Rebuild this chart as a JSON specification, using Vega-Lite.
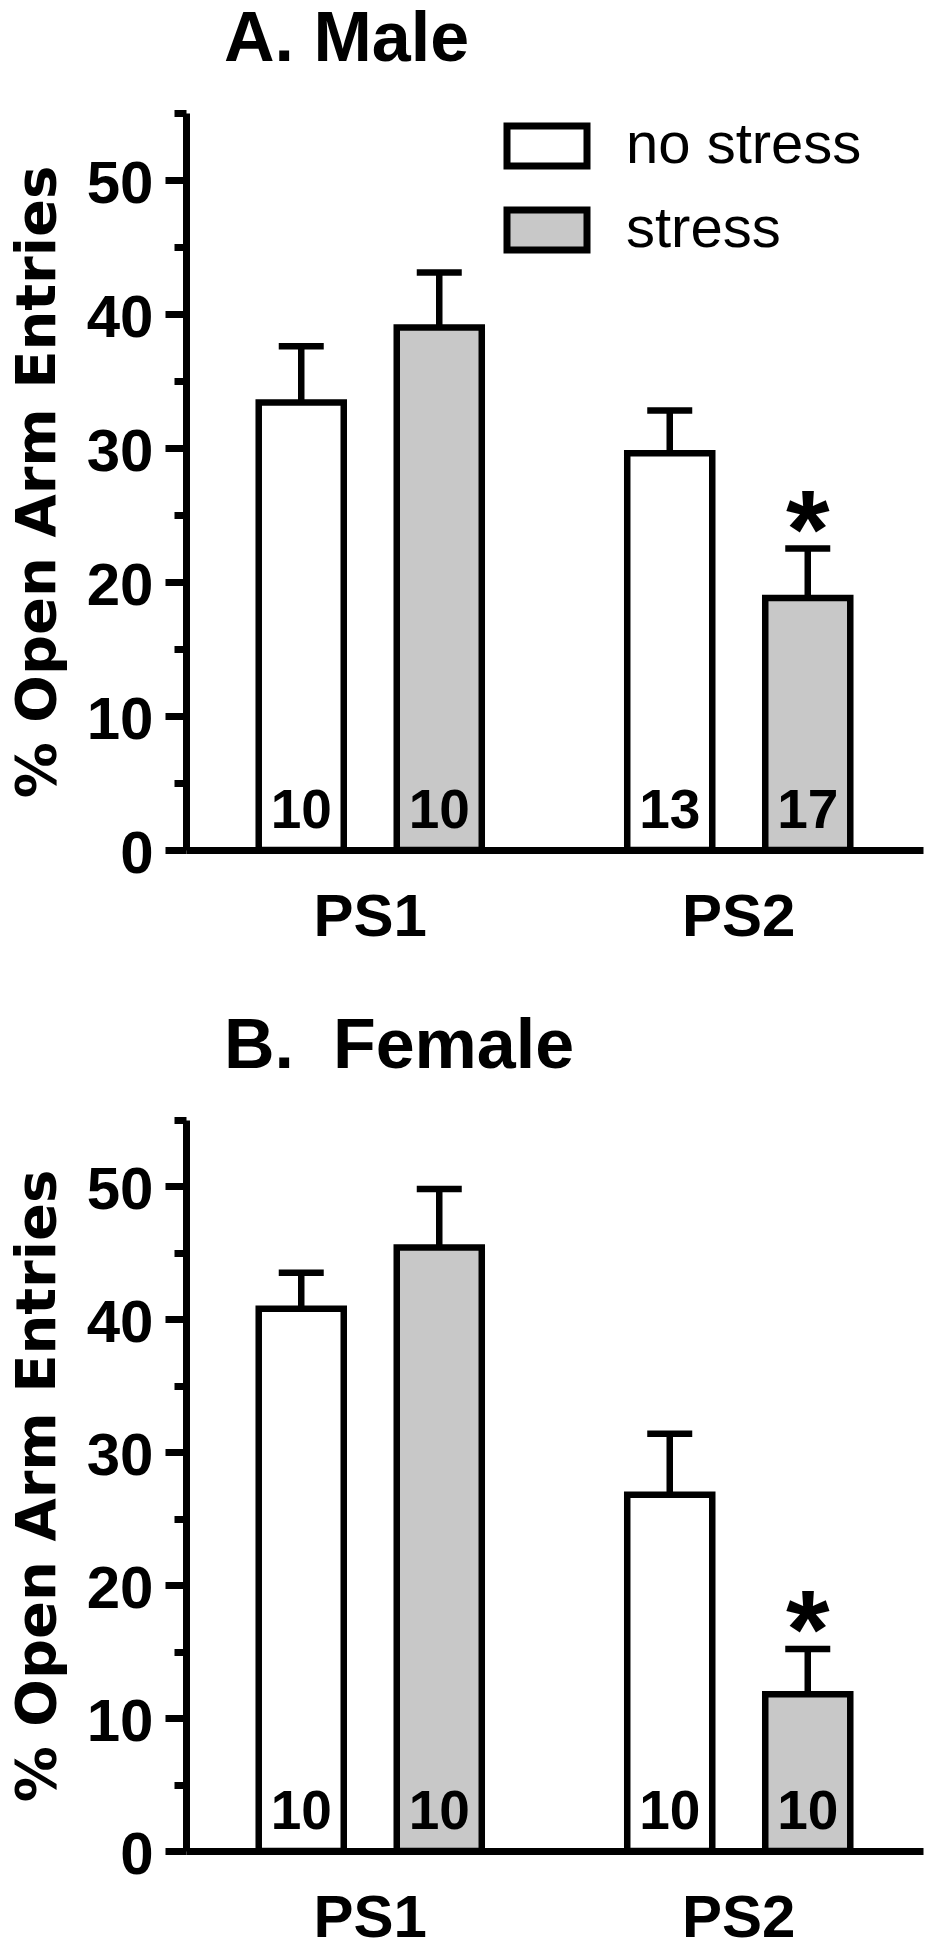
{
  "$schema": "https://vega.github.io/schema/vega-lite/v6.json",
  "background": "white",
  "padding": {"left": 9, "top": 4, "right": 5, "bottom": 0},
  "config": {"view": {"stroke": null}},
  "datasets": {
    "male": [
      {"period": "PS1", "cond": "no stress", "mean": 33.4, "upper": 37.6, "n": "10", "sig": ""},
      {"period": "PS1", "cond": "stress", "mean": 39.0, "upper": 43.1, "n": "10", "sig": ""},
      {"period": "PS2", "cond": "no stress", "mean": 29.6, "upper": 32.8, "n": "13", "sig": ""},
      {"period": "PS2", "cond": "stress", "mean": 18.8, "upper": 22.5, "n": "17", "sig": "*"}
    ],
    "female": [
      {"period": "PS1", "cond": "no stress", "mean": 40.8, "upper": 43.5, "n": "10", "sig": ""},
      {"period": "PS1", "cond": "stress", "mean": 45.4, "upper": 49.8, "n": "10", "sig": ""},
      {"period": "PS2", "cond": "no stress", "mean": 26.8, "upper": 31.4, "n": "10", "sig": ""},
      {"period": "PS2", "cond": "stress", "mean": 11.8, "upper": 15.2, "n": "10", "sig": "*"}
    ]
  },
  "resolve": {"scale": {"fill": "independent"}, "legend": {"fill": "independent"}},
  "spacing": 64,
  "vconcat": [
    {
      "width": 737,
      "height": 737,
      "title": {"text": "A. Male", "anchor": "start", "frame": "group", "dx": 38, "offset": -21, "baseline": "alphabetic", "font": "Liberation Sans", "fontSize": 70, "fontWeight": "bold", "color": "black"},
      "data": {"name": "male"},
      "encoding": {
        "x": {"field": "period", "type": "nominal", "scale": {"paddingInner": 0, "paddingOuter": 0},
          "axis": {"title": null, "labelAngle": 0, "ticks": false, "tickSize": 0, "domainColor": "black", "domainWidth": 7, "labelFont": "Liberation Sans", "labelFontSize": 60, "labelFontWeight": "bold", "labelColor": "black", "labelPadding": 38}},
        "xOffset": {"field": "cond", "type": "nominal", "sort": ["no stress", "stress"], "scale": {"paddingInner": 0.384, "paddingOuter": 0.527}}
      },
      "layer": [
        {
          "mark": {"type": "rule", "strokeWidth": 6.5, "color": "black"},
          "encoding": {
            "y": {"field": "mean", "type": "quantitative", "scale": {"domain": [0, 55], "nice": false},
              "axis": {"title": "% Open Arm Entries", "values": [0, 5, 10, 15, 20, 25, 30, 35, 40, 45, 50, 55], "labelExpr": "datum.value % 10 === 0 ? datum.label : ''", "tickSize": {"condition": {"test": "datum.value % 10 === 0", "value": 21}, "value": 12}, "grid": false, "domainColor": "black", "domainWidth": 7, "tickColor": "black", "tickWidth": 7, "labelFont": "Liberation Sans", "labelFontSize": 60, "labelFontWeight": "bold", "labelColor": "black", "labelPadding": 12, "labelOffset": 4, "titleFont": "DejaVu Sans", "titleFontSize": 56, "titleFontWeight": "bold", "titleColor": "black", "titlePadding": 20}},
            "y2": {"field": "upper"}
          }
        },
        {
          "mark": {"type": "bar", "stroke": "black", "strokeWidth": 6.5, "strokeJoin": "miter"},
          "encoding": {
            "y": {"field": "mean", "type": "quantitative"},
            "fill": {"field": "cond", "type": "nominal", "scale": {"domain": ["no stress", "stress"], "range": ["white", "#c8c8c8"]},
              "legend": {"orient": "none", "legendX": 332, "legendY": 4, "title": null, "symbolType": "M-2,-1H2V1H-2Z", "symbolSize": 1600, "symbolStrokeColor": "black", "symbolStrokeWidth": 7, "symbolOpacity": 1, "labelFont": "Liberation Sans", "labelFontSize": 58, "labelColor": "black", "labelLimit": 500, "labelOffset": 50, "rowPadding": 16, "padding": 0}}
          }
        },
        {
          "mark": {"type": "tick", "thickness": 6.5, "size": 45, "color": "black", "opacity": 1},
          "encoding": {"y": {"field": "upper", "type": "quantitative"}}
        },
        {
          "mark": {"type": "text", "font": "Liberation Sans", "fontWeight": "bold", "fontSize": 55, "baseline": "alphabetic", "dy": -22, "color": "black"},
          "encoding": {"y": {"datum": 0}, "text": {"field": "n"}}
        },
        {
          "mark": {"type": "text", "font": "Liberation Sans", "fontWeight": "bold", "fontSize": 112, "baseline": "middle", "dy": -15, "color": "black"},
          "encoding": {"y": {"field": "upper", "type": "quantitative"}, "text": {"field": "sig"}}
        }
      ]
    },
    {
      "width": 737,
      "height": 731,
      "title": {"text": "B.\u00a0\u00a0Female", "anchor": "start", "frame": "group", "dx": 38, "offset": -21, "baseline": "alphabetic", "font": "Liberation Sans", "fontSize": 70, "fontWeight": "bold", "color": "black"},
      "data": {"name": "female"},
      "encoding": {
        "x": {"field": "period", "type": "nominal", "scale": {"paddingInner": 0, "paddingOuter": 0},
          "axis": {"title": null, "labelAngle": 0, "ticks": false, "tickSize": 0, "domainColor": "black", "domainWidth": 7, "labelFont": "Liberation Sans", "labelFontSize": 60, "labelFontWeight": "bold", "labelColor": "black", "labelPadding": 38}},
        "xOffset": {"field": "cond", "type": "nominal", "sort": ["no stress", "stress"], "scale": {"paddingInner": 0.384, "paddingOuter": 0.527}}
      },
      "layer": [
        {
          "mark": {"type": "rule", "strokeWidth": 6.5, "color": "black"},
          "encoding": {
            "y": {"field": "mean", "type": "quantitative", "scale": {"domain": [0, 55], "nice": false},
              "axis": {"title": "% Open Arm Entries", "values": [0, 5, 10, 15, 20, 25, 30, 35, 40, 45, 50, 55], "labelExpr": "datum.value % 10 === 0 ? datum.label : ''", "tickSize": {"condition": {"test": "datum.value % 10 === 0", "value": 21}, "value": 12}, "grid": false, "domainColor": "black", "domainWidth": 7, "tickColor": "black", "tickWidth": 7, "labelFont": "Liberation Sans", "labelFontSize": 60, "labelFontWeight": "bold", "labelColor": "black", "labelPadding": 12, "labelOffset": 4, "titleFont": "DejaVu Sans", "titleFontSize": 56, "titleFontWeight": "bold", "titleColor": "black", "titlePadding": 20}},
            "y2": {"field": "upper"}
          }
        },
        {
          "mark": {"type": "bar", "stroke": "black", "strokeWidth": 6.5, "strokeJoin": "miter"},
          "encoding": {
            "y": {"field": "mean", "type": "quantitative"},
            "fill": {"field": "cond", "type": "nominal", "scale": {"domain": ["no stress", "stress"], "range": ["white", "#c8c8c8"]}, "legend": null}
          }
        },
        {
          "mark": {"type": "tick", "thickness": 6.5, "size": 45, "color": "black", "opacity": 1},
          "encoding": {"y": {"field": "upper", "type": "quantitative"}}
        },
        {
          "mark": {"type": "text", "font": "Liberation Sans", "fontWeight": "bold", "fontSize": 55, "baseline": "alphabetic", "dy": -22, "color": "black"},
          "encoding": {"y": {"datum": 0}, "text": {"field": "n"}}
        },
        {
          "mark": {"type": "text", "font": "Liberation Sans", "fontWeight": "bold", "fontSize": 112, "baseline": "middle", "dy": -15, "color": "black"},
          "encoding": {"y": {"field": "upper", "type": "quantitative"}, "text": {"field": "sig"}}
        }
      ]
    }
  ]
}
